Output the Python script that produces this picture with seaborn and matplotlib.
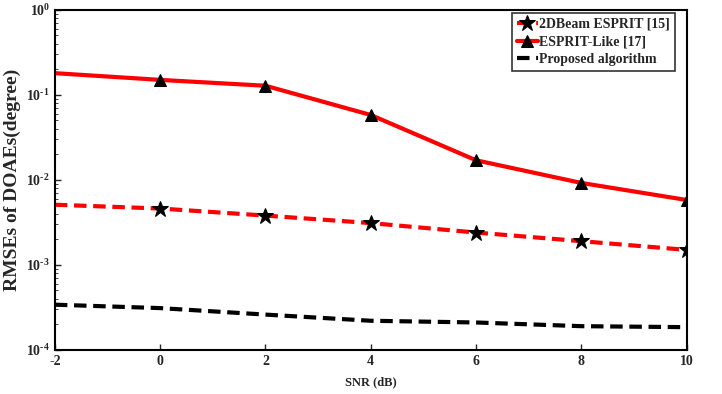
import numpy as np
import pandas as pd
import matplotlib
matplotlib.use("Agg")
import matplotlib.pyplot as plt
import matplotlib.ticker as mticker
import seaborn as sns

# data
snr = [-2, 0, 2, 4, 6, 8, 10]
beam_esprit = [0.0051, 0.0046, 0.0038, 0.0031, 0.0024, 0.0019, 0.0015]
esprit_like = [0.18, 0.15, 0.128, 0.058, 0.017, 0.0092, 0.0058]
proposed = [3.4e-4, 3.1e-4, 2.6e-4, 2.2e-4, 2.1e-4, 1.9e-4, 1.85e-4]

sns.set_style("white")
plt.rcParams['font.family'] = ['Liberation Serif', 'DejaVu Serif']
plt.rcParams['font.weight'] = 'bold'
plt.rcParams['axes.unicode_minus'] = False
plt.rcParams['mathtext.fontset'] = 'custom'
plt.rcParams['mathtext.rm'] = 'Liberation Serif:bold'
plt.rcParams['mathtext.bf'] = 'Liberation Serif:bold'

df = pd.DataFrame({'snr': snr, 'beam': beam_esprit, 'like': esprit_like, 'prop': proposed})

fig = plt.figure(figsize=(7.22, 3.94), dpi=100)
ax = fig.add_axes([0.076, 0.112, 0.875, 0.863])

# markers only from 0 dB onwards, as in the original
marks = list(range(1, len(snr)))
sns.lineplot(data=df, x='snr', y='beam', ax=ax, color='red', linewidth=3, linestyle=(0, (3, 1.6)),
             marker='*', markersize=12, markerfacecolor='black', markeredgecolor='black',
             markevery=marks, label='2DBeam ESPRIT [15]')
sns.lineplot(data=df, x='snr', y='like', ax=ax, color='red', linewidth=3,
             marker='^', markersize=9, markerfacecolor='black', markeredgecolor='black',
             markevery=marks, label='ESPRIT-Like [17]')
sns.lineplot(data=df, x='snr', y='prop', ax=ax, color='black', linewidth=3, linestyle=(0, (3, 1.6)),
             label='Proposed algorithm')

ax.set_yscale('log')
ax.set_xlim(-2, 10)
ax.set_ylim(1e-4, 1)
ax.set_xticks(snr)
ax.set_yticks([1e-4, 1e-3, 1e-2, 1e-1, 1])
ax.yaxis.set_major_formatter(mticker.FuncFormatter(
    lambda v, p: r'$\mathbf{10^{\text{%d}}}$' % int(round(np.log10(v)))))
ax.tick_params(axis='both', which='major', direction='in', length=4, width=1, labelsize=10,
               left=True, bottom=True)
ax.tick_params(axis='y', which='minor', direction='in', length=2, left=True)
for lbl in ax.get_xticklabels() + ax.get_yticklabels():
    lbl.set_fontweight('bold')
for s in ax.spines.values():
    s.set_color('black')
    s.set_linewidth(1.5)

ax.set_xlabel('SNR (dB)', fontsize=9, fontweight='bold', labelpad=6)
ax.set_ylabel('RMSEs of DOAEs(degree)', fontsize=14, fontweight='bold', labelpad=4)

leg = ax.legend(loc='upper right', bbox_to_anchor=(0.992, 1.012), fontsize=10, frameon=True, fancybox=False,
                handlelength=1.5, handletextpad=0.1, borderpad=0.35, labelspacing=0.35)
leg.get_frame().set_edgecolor('black')
leg.get_frame().set_linewidth(1.2)
for t in leg.get_texts():
    t.set_fontweight('bold')

fig.savefig('out.png', dpi=100)
